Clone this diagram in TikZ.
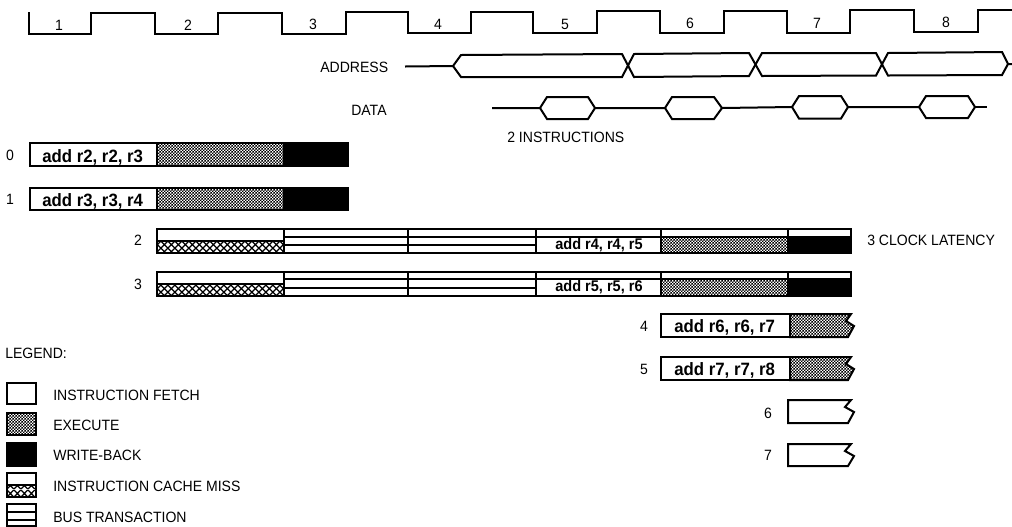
\documentclass[tikz,border=0pt]{standalone}
\usepackage{fontspec}
\setmainfont[FakeStretch=0.94]{Liberation Sans}
\makeatletter
\pgfdeclarepatternformonly{execdots}{\pgfpointorigin}{\pgfpoint{2.2pt}{2.2pt}}{\pgfpoint{2.2pt}{2.2pt}}{
  \pgfpathrectangle{\pgfpoint{0pt}{0pt}}{\pgfpoint{1.1pt}{1.1pt}}
  \pgfpathrectangle{\pgfpoint{1.1pt}{1.1pt}}{\pgfpoint{1.1pt}{1.1pt}}
  \pgfusepath{fill}}
\pgfdeclarepatternformonly{misshatch}{\pgfpointorigin}{\pgfpoint{5.5pt}{5.5pt}}{\pgfpoint{5.5pt}{5.5pt}}{
  \pgfsetlinewidth{1pt}
  \pgfpathmoveto{\pgfpoint{0pt}{0pt}}\pgfpathlineto{\pgfpoint{5.5pt}{5.5pt}}
  \pgfpathmoveto{\pgfpoint{0pt}{5.5pt}}\pgfpathlineto{\pgfpoint{5.5pt}{0pt}}
  \pgfusepath{stroke}}
\makeatother
\tikzset{
  wire/.style={line width=1.5pt,line join=miter,black},
  cell/.style={wire,fill=white},
  execcell/.style={wire,pattern=execdots,pattern color=black},
  misscell/.style={wire,pattern=misshatch,pattern color=black},
  wbcell/.style={wire,fill=black},
  lab/.style={inner sep=0pt,anchor=base west,font=\fontsize{11.2}{13}\selectfont},
  clab/.style={inner sep=0pt,anchor=base,font=\fontsize{11.2}{13}\selectfont},
  instr/.style={inner sep=0pt,anchor=base west,font=\fontsize{13.4}{15}\selectfont\bfseries},
  instrs/.style={inner sep=0pt,anchor=base,font=\fontsize{11.6}{14}\selectfont\bfseries}
}
\usetikzlibrary{patterns}
\begin{document}
\begin{tikzpicture}[x=0.75pt,y=-0.75pt]
\useasboundingbox (0,0) rectangle (1012,526);
% clock
\draw[wire] (29,12) -- (29,34) -- (91,34) -- (91,13) -- (155,13) -- (155,34) -- (218,34) -- (218,12.5) -- (282,12.5) -- (282,34) -- (346,34) -- (346,12) -- (408,12) -- (408,33) -- (471,33) -- (471,11.5) -- (533,11.5) -- (533,33) -- (597,33) -- (597,11) -- (660,11) -- (660,32.5) -- (724,32.5) -- (724,10.5) -- (787,10.5) -- (787,32.5) -- (850,32.5) -- (850,10) -- (914,10) -- (914,32) -- (978,32) -- (978,10) -- (1012,10);
\foreach \n/\x/\y in {1/59/30,2/188/30,3/313/29,4/438/29,5/565/29,6/690/28,7/817/28,8/946/27}
  \node[clab] (clk\n) at (\x,\y) {\n};
% address
\node[lab] (addr) at (320,72) {ADDRESS};
\draw[wire] (405,66.5) -- (453,66) -- (461,55) -- (622,54) -- (634,77) -- (749,76) -- (762,53) -- (876,53) -- (888,75.5) -- (1002,75) -- (1008,64) -- (1012,64);
\draw[wire] (453,66) -- (461,77) -- (622,77) -- (634,54) -- (749,53) -- (762,76) -- (876,75.5) -- (888,53) -- (1002,52) -- (1008,64);
% data
\node[lab] (data) at (351,115) {DATA};
\draw[wire] (492,108) -- (540,108) -- (547,97) -- (588,97) -- (595,108) -- (588,119) -- (547,119) -- (540,108);
\draw[wire] (595,108) -- (665,108) -- (672,97) -- (714,97) -- (722,108) -- (714,119) -- (672,119) -- (665,108);
\draw[wire] (722,108) -- (792,107) -- (799,96) -- (841,96) -- (848,107) -- (841,118.5) -- (799,118.5) -- (792,107);
\draw[wire] (848,107) -- (919,107) -- (926,96) -- (968,96) -- (975,107) -- (968,118) -- (926,118) -- (919,107);
\draw[wire] (975,107) -- (987,107);
\node[lab] (twoinstr) at (507,142) {2 INSTRUCTIONS};
% rows 0, 1
\foreach \i/\t/\b/\lb/\tb/\txt in {0/143/166/160/162/{add r2, r2, r3},1/188/210/204/206/{add r3, r3, r4}}{
  \draw[cell] (30,\t) rectangle (157,\b);
  \draw[execcell] (157,\t) rectangle (284,\b);
  \draw[wbcell] (284,\t) rectangle (348,\b);
  \node[clab] (rowlab\i) at (10,\lb) {\i};
  \node[instr] (rowtxt\i) at (42,\tb) {\txt};
}
% rows 2, 3
\foreach \i/\t/\m/\b/\bl/\lb/\tb/\txt in {2/229/237/253/245/245/249/{add r4, r4, r5},3/272/279/296/288/289/291/{add r5, r5, r6}}{
  \draw[cell] (157,\t) rectangle (284,\b);
  \draw[misscell] (157,\bl-4) rectangle (284,\b);
  \foreach \a/\c in {284/408,408/536}{
    \draw[cell] (\a,\t) rectangle (\c,\b);
    \draw[wire] (\a,\m) -- (\c,\m);
    \draw[wire] (\a,\bl) -- (\c,\bl);
  }
  \draw[cell] (536,\t) rectangle (661,\b);
  \draw[wire] (536,\m) -- (661,\m);
  \draw[cell] (661,\t) rectangle (788,\b);
  \draw[execcell] (661,\m) rectangle (788,\b);
  \draw[cell] (788,\t) rectangle (851,\b);
  \draw[wbcell] (788,\m) rectangle (851,\b);
  \node[clab] (rowlab\i) at (138,\lb) {\i};
  \node[instrs] (rowtxt\i) at (599,\tb) {\txt};
}
\node[lab] (latency) at (867,245) {3 CLOCK LATENCY};
% rows 4, 5
\foreach \i/\t/\n/\mid/\b/\lb/\txt in {4/314/321/326/337/331/{add r6, r6, r7},5/357/364/369/380/374/{add r7, r7, r8}}{
  \draw[cell] (661,\t) rectangle (790,\b);
  \draw[execcell] (790,\t) -- (851,\t) -- (846,\n) -- (854,\mid) -- (848,\b) -- (790,\b) -- cycle;
  \node[clab] (rowlab\i) at (644,\lb) {\i};
  \node[instr] (rowtxt\i) at (674,\lb+1) {\txt};
}
% rows 6, 7
\foreach \i/\t/\n/\mid/\b/\lb in {6/400/407/412/423/418,7/444/451/456/466/460}{
  \draw[cell] (788,\t) -- (851,\t) -- (845,\n) -- (854,\mid) -- (848,\b) -- (788,\b) -- cycle;
  \node[clab] (rowlab\i) at (768,\lb) {\i};
}
% legend
\node[lab] (legend) at (5,358) {LEGEND:};
\draw[cell] (7,383) rectangle (36,404);
\draw[execcell] (7,413) rectangle (36,435);
\draw[wbcell] (7,443) rectangle (36,466);
\draw[cell] (7,473) rectangle (36,497);
\draw[misscell] (7,485) rectangle (36,497);
\draw[cell] (7,504) rectangle (36,526);
\draw[wire] (7,512) -- (36,512);
\draw[wire] (7,520) -- (36,520);
\node[lab] (lg1) at (53,400) {INSTRUCTION FETCH};
\node[lab] (lg2) at (53,430) {EXECUTE};
\node[lab] (lg3) at (53,460) {WRITE-BACK};
\node[lab] (lg4) at (53,491) {INSTRUCTION CACHE MISS};
\node[lab] (lg5) at (53,522) {BUS TRANSACTION};
\end{tikzpicture}
\end{document}
